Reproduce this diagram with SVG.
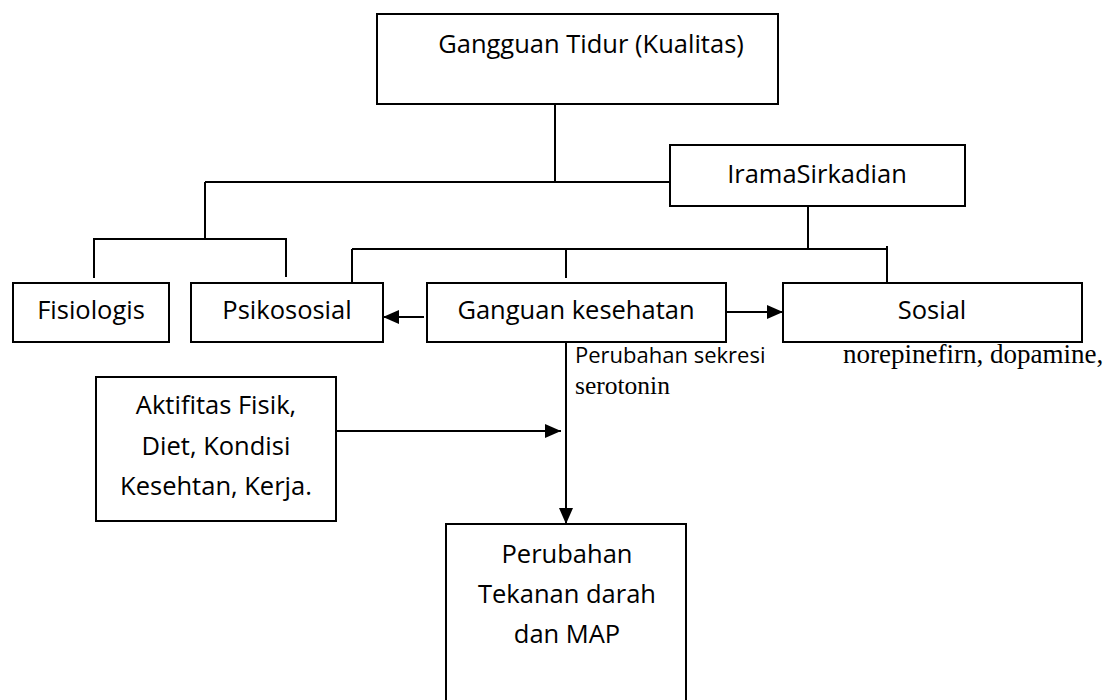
<svg xmlns="http://www.w3.org/2000/svg" width="1109" height="700" viewBox="0 0 1109 700">
<style>
.box{fill:#fff;stroke:#000;stroke-width:2}
.t{font-family:"Open Sans","Noto Sans",sans-serif;font-size:25.5px;fill:#000;text-anchor:middle}
.s{font-family:"Open Sans","Noto Sans",sans-serif;font-size:22px;fill:#000}
.sr{font-family:"Liberation Serif","Times New Roman",serif;font-size:27px;fill:#000}
.sr2{font-family:"Liberation Serif","Times New Roman",serif;font-size:25.5px;fill:#000}
.c{fill:none;stroke:#000;stroke-width:2}
</style>
<defs>
<marker id="ah" markerUnits="userSpaceOnUse" markerWidth="16" markerHeight="14" refX="16" refY="7" orient="auto">
<path d="M0,0 L16,7 L0,14 z" fill="#000"/>
</marker>
</defs>
<rect width="1109" height="700" fill="#fff"/>
<g id="connectors">
<path class="c" d="M555,104 V182"/>
<path class="c" d="M205,182 H670"/>
<path class="c" d="M205,182 V239"/>
<path class="c" d="M94,278 V239 H286 V277"/>
<path class="c" d="M808,206 V249"/>
<path class="c" d="M352,249 H887"/>
<path class="c" d="M887,246 V286"/>
<path class="c" d="M352,249 V283"/>
<path class="c" d="M566,249 V278"/>
<path class="c" d="M424,317 H383" marker-end="url(#ah)"/>
<path class="c" d="M727,312 H783" marker-end="url(#ah)"/>
<path class="c" d="M566,343 V524" marker-end="url(#ah)"/>
<path class="c" d="M336,431 H561" marker-end="url(#ah)"/>
</g>
<g id="gangguan-tidur">
<rect class="box" x="377" y="14" width="401" height="90"/>
<text class="t" x="591" y="53">Gangguan Tidur (Kualitas)</text>
</g>
<g id="irama-sirkadian">
<rect class="box" x="670" y="145" width="295" height="61"/>
<text class="t" x="817" y="183">IramaSirkadian</text>
</g>
<g id="fisiologis">
<rect class="box" x="13" y="283" width="156" height="59"/>
<text class="t" x="91" y="319">Fisiologis</text>
</g>
<g id="psikososial">
<rect class="box" x="191" y="283" width="192" height="59"/>
<text class="t" x="287" y="319">Psikososial</text>
</g>
<g id="ganguan-kesehatan">
<rect class="box" x="427" y="283" width="299" height="59"/>
<text class="t" x="576" y="319">Ganguan kesehatan</text>
</g>
<g id="sosial">
<rect class="box" x="783" y="283" width="299" height="59"/>
<text class="t" x="932" y="319">Sosial</text>
</g>
<g id="aktifitas">
<rect class="box" x="96" y="377" width="240" height="144"/>
<text class="t" x="216" y="414">Aktifitas Fisik,</text>
<text class="t" x="216" y="455">Diet, Kondisi</text>
<text class="t" x="216" y="495">Kesehtan, Kerja.</text>
</g>
<g id="perubahan-tekanan">
<rect class="box" x="446" y="524" width="240" height="180"/>
<text class="t" x="567" y="563">Perubahan</text>
<text class="t" x="567" y="603">Tekanan darah</text>
<text class="t" x="567" y="643">dan MAP</text>
</g>
<g id="labels">
<text class="s" x="575" y="363">Perubahan sekresi</text>
<text class="sr" x="843" y="363">norepinefirn, dopamine,</text>
<text class="sr2" x="575" y="394">serotonin</text>
</g>
</svg>
